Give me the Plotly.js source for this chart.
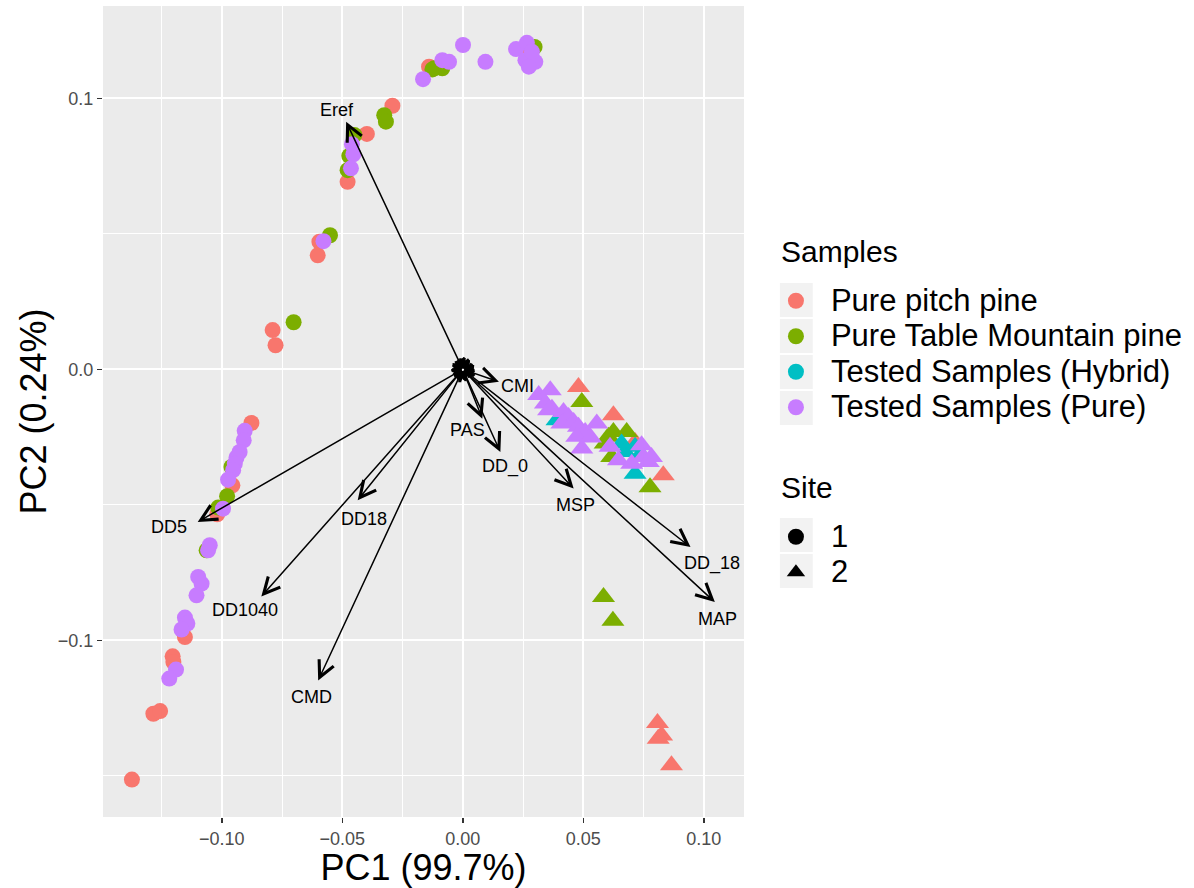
<!DOCTYPE html>
<html><head><meta charset="utf-8">
<script src="https://cdn.plot.ly/plotly-3.0.1.min.js"></script>
<style>html,body{margin:0;padding:0;background:#fff}#chart{width:1194px;height:888px}</style>
</head><body><div id="chart"></div>
<script>
// ---- Categories ----
const groupNames = ['Pure pitch pine','Pure Table Mountain pine','Tested Samples (Hybrid)','Tested Samples (Pure)'];
const groupColors = ['#F8766D','#7CAE00','#00BFC4','#C77CFF'];
const siteNames = ['1','2'];
const siteSymbols = ['circle','triangle-up'];

// ---- Site 1 scores (PC1, PC2) ----
const pitch1X = [-0.0140,-0.0292,-0.0398,-0.0478,-0.0595,-0.0602,-0.0789,-0.0777,0.0265,-0.0877,-0.0956,-0.1019,-0.1153,-0.1204,-0.1201,-0.1284,-0.1256,-0.1373];
const pitch1Y = [0.1117,0.0973,0.0869,0.0692,0.0471,0.0421,0.0145,0.0089,0.1189,-0.0198,-0.0428,-0.0535,-0.0988,-0.1059,-0.1080,-0.1271,-0.1261,-0.1514];
const tmp1X = [-0.0119,-0.0085,-0.0126,-0.0326,-0.0319,-0.0450,-0.0471,-0.0478,-0.0551,-0.0702,0.0298,-0.0960,-0.0978,-0.1015,-0.1063];
const tmp1Y = [0.1111,0.1111,0.1107,0.0938,0.0914,0.0865,0.0788,0.0735,0.0495,0.0174,0.1190,-0.0360,-0.0468,-0.0510,-0.0668];
const hybrid1X = [];
const hybrid1Y = [];
const testPure1X = [-0.0085,-0.0057,-0.0165,0.0001,0.0094,0.0221,0.0266,0.0260,0.0301,0.0274,0.0287,-0.0460,-0.0454,-0.0464,-0.0578,-0.0905,-0.0909,-0.0926,-0.0939,-0.0946,-0.0953,-0.0974,-0.0995,-0.1050,-0.1057,-0.1098,-0.1084,-0.1105,-0.1153,-0.1143,-0.1167,-0.1190,-0.1218];
const testPure1Y = [0.1141,0.1135,0.1071,0.1197,0.1135,0.1182,0.1205,0.1141,0.1135,0.1117,0.1172,0.0831,0.0794,0.0742,0.0473,-0.0227,-0.0262,-0.0305,-0.0325,-0.0348,-0.0372,-0.0407,-0.0514,-0.0649,-0.0668,-0.0766,-0.0791,-0.0834,-0.0916,-0.0938,-0.0960,-0.1108,-0.1141];

// ---- Site 2 scores ----
const pitch2X = [0.0480,0.0625,0.0715,0.0832,0.0808,0.0825,0.0811,0.0866];
const pitch2Y = [-0.0065,-0.0169,-0.0268,-0.0391,-0.1305,-0.1351,-0.1363,-0.1461];
const tmp2X = [0.0494,0.0604,0.0625,0.0680,0.0591,0.0618,0.0777,0.0584,0.0623];
const tmp2Y = [-0.0120,-0.0249,-0.0231,-0.0231,-0.0274,-0.0323,-0.0435,-0.0840,-0.0928];
const hybrid2X = [0.0391,0.0659,0.0673,0.0715,0.0735,0.0715];
const hybrid2Y = [-0.0188,-0.0274,-0.0305,-0.0286,-0.0317,-0.0385];
const testPure2X = [0.0315,0.0363,0.0343,0.0370,0.0418,0.0439,0.0411,0.0460,0.0480,0.0508,0.0556,0.0494,0.0473,0.0611,0.0646,0.0742,0.0749,0.0701,0.0770,0.0783,0.0356,0.0530];
const testPure2Y = [-0.0095,-0.0077,-0.0126,-0.0145,-0.0157,-0.0176,-0.0200,-0.0194,-0.0212,-0.0231,-0.0200,-0.0292,-0.0249,-0.0286,-0.0335,-0.0280,-0.0323,-0.0348,-0.0342,-0.0323,-0.0151,-0.0251];

// ---- Variable loadings (arrows) ----
const varNames = ['Eref','DD5','DD18','DD1040','CMD','CMI','PAS','DD_0','MSP','DD_18','MAP'];
const loadX = [-0.0484,-0.1100,-0.0436,-0.0836,-0.0600,0.0150,0.0081,0.0156,0.0460,0.0945,0.1046];
const loadY = [0.0914,-0.0563,-0.0483,-0.0838,-0.1148,-0.0046,-0.0182,-0.0305,-0.0440,-0.0656,-0.0859];
const labelX = [-0.0520,-0.1219,-0.0412,-0.0902,-0.0627,0.0229,0.0018,0.0177,0.0467,0.1036,0.1056];
const labelY = [0.0957,-0.0583,-0.0551,-0.0887,-0.1209,-0.0062,-0.0225,-0.0360,-0.0502,-0.0715,-0.0920];
// unlabeled near-zero loadings (the knot at the origin)
const smallLoadX = [0.0045,0.0030,0.0008,-0.0020,-0.0040,-0.0045,-0.0030,-0.0008,0.0015,0.0035,0.0050,-0.0015,0.0025,-0.0035];
const smallLoadY = [0.0015,0.0035,0.0045,0.0040,0.0020,-0.0010,-0.0035,-0.0045,-0.0045,-0.0030,-0.0010,0.0030,-0.0020,-0.0025];

const FONT = '"Liberation Sans", Arial, Helvetica, sans-serif';

const site1 = [[pitch1X,pitch1Y],[tmp1X,tmp1Y],[hybrid1X,hybrid1Y],[testPure1X,testPure1Y]];
const site2 = [[pitch2X,pitch2Y],[tmp2X,tmp2Y],[hybrid2X,hybrid2Y],[testPure2X,testPure2Y]];

const traces = [];
[site1, site2].forEach((site, si) => {
  site.forEach((g, gi) => {
    traces.push({
      type:'scatter', mode:'markers', x:g[0], y:g[1], showlegend:false, hoverinfo:'skip',
      marker:{symbol:siteSymbols[si], size: si===0 ? 16 : 20, color:groupColors[gi], line:{width:0}}
    });
  });
});
// legend entries
groupNames.forEach((n, gi) => {
  traces.push({type:'scatter', mode:'markers', x:[null], y:[null], name:'<span style="font-size:31px">'+n+'</span>',
    legend:'legend', showlegend:true, marker:{symbol:'circle', size:16, color:groupColors[gi]}});
});
siteNames.forEach((n, si) => {
  traces.push({type:'scatter', mode:'markers', x:[null], y:[null], name:'<span style="font-size:31px">'+n+'</span>',
    legend:'legend2', showlegend:true, marker:{symbol:siteSymbols[si], size:16, color:'#000'}});
});

const annotations = [];
smallLoadX.forEach((x, i) => {
  annotations.push({x:x, y:smallLoadY[i], ax:0, ay:0, xref:'x', yref:'y', axref:'x', ayref:'y',
    text:'', showarrow:true, arrowhead:5, arrowsize:2.1, arrowwidth:1.5, arrowcolor:'#000', standoff:0, startstandoff:0});
});
varNames.forEach((n, i) => {
  annotations.push({x:loadX[i], y:loadY[i], ax:0, ay:0, xref:'x', yref:'y', axref:'x', ayref:'y',
    text:'', showarrow:true, arrowhead:5, arrowsize:2.1, arrowwidth:1.5, arrowcolor:'#000', standoff:0, startstandoff:0});
  annotations.push({x:labelX[i], y:labelY[i], xref:'x', yref:'y', text:n, showarrow:false,
    font:{family:FONT, size:18, color:'#000'}});
});
// legend titles
const pxX = px => (px - 103) / 643;
const pxY = py => (817 - py) / 811;
annotations.push({xref:'paper', yref:'paper', x:pxX(781), y:pxY(252), xanchor:'left', yanchor:'middle',
  text:'Samples', showarrow:false, font:{family:FONT, size:30, color:'#000'}});
annotations.push({xref:'paper', yref:'paper', x:pxX(781), y:pxY(487), xanchor:'left', yanchor:'middle',
  text:'Site', showarrow:false, font:{family:FONT, size:30, color:'#000'}});

// grey legend key backgrounds
const shapes = [];
const keyCenters = [300, 336, 372, 408, 535, 571];
keyCenters.forEach(c => {
  shapes.push({type:'rect', xref:'paper', yref:'paper', x0:pxX(782), x1:pxX(815), y0:pxY(c+17), y1:pxY(c-17),
    fillcolor:'#F2F2F2', line:{width:0}, layer:'below'});
});

const axisCommon = {
  showgrid:true, gridcolor:'#FFFFFF', gridwidth:2, zeroline:false, showline:false,
  ticks:'outside', ticklen:5, tickwidth:1.5, tickcolor:'#333333',
  tickfont:{family:FONT, size:18, color:'#4D4D4D'}, fixedrange:true
};

const layout = {
  width:1194, height:888,
  margin:{l:103, r:448, t:6, b:71, pad:0},
  paper_bgcolor:'#FFFFFF', plot_bgcolor:'#EBEBEB',
  font:{family:FONT, color:'#000'},
  xaxis:Object.assign({}, axisCommon, {
    range:[-0.1493, 0.1167], tick0:0, dtick:0.05, tickformat:'.2f',
    minor:{dtick:0.025, showgrid:true, gridcolor:'#FFFFFF', gridwidth:1},
    title:{text:'PC1 (99.7%)', font:{family:FONT, size:36, color:'#000'}, standoff:0}
  }),
  yaxis:Object.assign({}, axisCommon, {
    range:[-0.1652, 0.1341], tick0:0, dtick:0.1, tickformat:'.1f',
    minor:{dtick:0.05, showgrid:true, gridcolor:'#FFFFFF', gridwidth:1},
    title:{text:'PC2 (0.24%)', font:{family:FONT, size:36, color:'#000'}, standoff:0}
  }),
  legend:{x:pxX(763), xanchor:'left', y:pxY(278), yanchor:'top', bgcolor:'rgba(0,0,0,0)',
    font:{family:FONT, size:25, color:'#000'}, itemwidth:60, tracegroupgap:0},
  legend2:{x:pxX(763), xanchor:'left', y:pxY(514), yanchor:'top', bgcolor:'rgba(0,0,0,0)',
    font:{family:FONT, size:25, color:'#000'}, itemwidth:60, tracegroupgap:0},
  annotations:annotations,
  shapes:shapes,
  showlegend:true,
  hovermode:false
};

Plotly.newPlot('chart', traces, layout, {displayModeBar:false, staticPlot:true});
</script>
</body></html>
